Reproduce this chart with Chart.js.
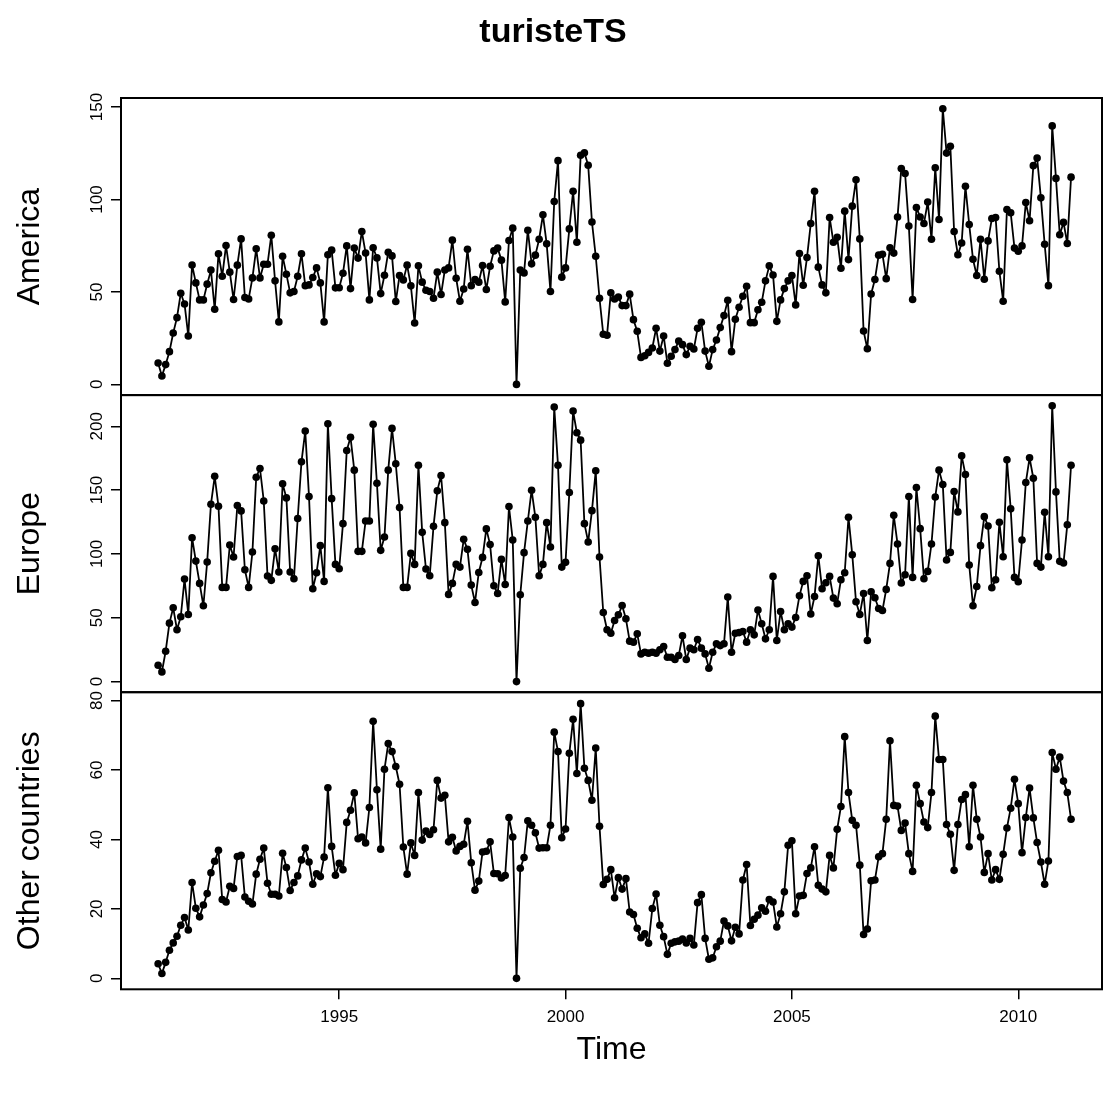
<!DOCTYPE html>
<html>
<head>
<meta charset="utf-8">
<title>turisteTS</title>
<script src="https://cdn.jsdelivr.net/npm/chart.js@4.4.1/dist/chart.umd.min.js"></script>
<style>
  html, body { margin: 0; padding: 0; background: #fff; }
  #wrap { width: 1106px; height: 1093px; }
</style>
</head>
<body>
<div id="wrap"><canvas id="ts" width="1106" height="1093"></canvas></div>
<script>
// monthly series, first observation Jan 1991, last Mar 2011
const startYear = 1991;

const america = [
  11.6, 4.5, 10.7, 17.7, 27.8, 36.1, 49.3, 43.5, 26.2, 64.6,
  54.9, 45.7, 45.7, 54.2, 61.8, 40.6, 70.6, 58.5, 75.1, 60.7,
  45.9, 64.5, 78.7, 47.0, 46.2, 57.6, 73.3, 57.6, 65.0, 65.0,
  80.7, 56.0, 33.8, 69.3, 59.6, 49.5, 50.2, 58.5, 70.6, 53.4,
  53.8, 57.8, 63.0, 54.9, 33.8, 70.1, 72.6, 52.2, 52.3, 60.1,
  74.9, 51.8, 73.7, 68.3, 82.7, 71.0, 45.7, 73.9, 68.4, 49.1,
  59.0, 71.5, 69.5, 44.8, 58.9, 56.5, 64.5, 53.3, 33.2, 64.1,
  55.3, 50.9, 50.2, 46.6, 60.7, 48.6, 61.9, 63.0, 78.0, 57.4,
  45.0, 51.6, 73.1, 53.4, 56.7, 55.3, 64.3, 51.3, 63.9, 72.2,
  73.7, 67.2, 44.6, 77.8, 84.5, 0, 61.9, 60.3, 83.4, 65.2,
  69.9, 78.5, 91.7, 76.0, 50.2, 98.9, 121.0, 58.0, 63.0, 84.1,
  104.4, 76.9, 123.9, 125.3, 118.5, 87.8, 69.3, 46.6, 27.1, 26.6,
  49.6, 46.2, 47.3, 42.6, 42.6, 48.8, 35.0, 28.7, 14.6, 15.5,
  17.3, 19.7, 30.3, 18.0, 26.2, 11.4, 15.2, 18.8, 23.5, 21.5,
  16.1, 20.6, 19.1, 30.3, 33.6, 18.0, 9.8, 18.8, 24.0, 30.7,
  37.2, 45.5, 17.7, 35.2, 41.7, 47.7, 53.1, 33.4, 33.4, 40.4,
  44.4, 56.0, 64.1, 59.2, 34.1, 45.7, 51.8, 56.0, 58.9, 43.0,
  70.8, 53.6, 68.6, 87.0, 104.4, 63.4, 53.8, 49.5, 90.3, 76.9,
  79.6, 62.8, 93.7, 67.5, 96.4, 110.7, 78.7, 28.9, 19.3, 48.9,
  56.7, 69.9, 70.4, 57.2, 73.9, 71.0, 90.5, 116.8, 114.1, 85.6,
  45.9, 95.7, 90.5, 87.0, 98.6, 78.5, 117.2, 89.2, 149.1, 125.1,
  128.8, 82.7, 70.1, 76.5, 107.1, 86.5, 67.7, 58.9, 78.5, 56.9,
  77.6, 89.7, 90.3, 61.2, 45.0, 94.6, 92.8, 73.7, 72.0, 74.9,
  98.4, 88.5, 118.3, 122.4, 100.9, 75.8, 53.4, 139.8, 111.4, 80.9,
  87.6, 76.2, 112.1
];

const europe = [
  12.8, 7.6, 23.8, 45.8, 57.8, 40.6, 50.8, 80.3, 52.6, 112.7,
  94.4, 76.9, 59.4, 93.7, 138.9, 160.8, 137.3, 73.8, 73.8, 107.0,
  97.6, 137.9, 133.7, 87.6, 73.8, 101.5, 160.1, 166.9, 141.5, 82.7,
  79.3, 104.1, 85.8, 154.9, 143.9, 85.8, 80.6, 127.7, 172.1, 196.2,
  144.9, 72.7, 85.3, 106.5, 78.5, 201.9, 143.3, 91.8, 88.4, 123.7,
  181.0, 191.4, 165.6, 102.0, 102.0, 125.8, 125.8, 201.6, 155.4, 102.8,
  113.3, 165.6, 198.3, 170.6, 136.3, 73.8, 73.8, 100.4, 91.8, 169.5,
  116.9, 88.2, 82.9, 121.6, 149.4, 161.4, 124.5, 68.3, 76.9, 91.8,
  89.7, 111.4, 103.6, 75.6, 62.0, 85.5, 97.3, 119.6, 107.3, 75.1,
  69.0, 95.7, 76.1, 137.1, 110.9, 0, 68.0, 101.0, 125.8, 149.9,
  128.7, 82.9, 91.8, 124.5, 105.4, 215.0, 169.5, 89.7, 93.4, 148.1,
  211.9, 194.9, 189.1, 123.7, 109.4, 133.9, 165.1, 97.6, 54.1, 40.6,
  37.9, 47.9, 52.3, 59.6, 49.2, 31.7, 30.9, 37.4, 21.7, 23.0,
  22.3, 23.0, 22.3, 24.9, 27.5, 19.1, 19.1, 17.3, 20.4, 35.9,
  17.3, 26.2, 24.9, 33.0, 26.2, 21.7, 10.5, 23.0, 29.6, 28.2,
  29.6, 66.2, 23.0, 37.9, 38.4, 39.2, 30.9, 40.6, 36.6, 56.0,
  45.3, 33.5, 40.6, 82.4, 32.2, 54.9, 40.6, 45.3, 42.7, 50.2,
  67.2, 78.5, 82.9, 52.9, 66.7, 98.6, 72.7, 77.4, 82.4, 65.4,
  61.0, 79.8, 85.3, 128.7, 99.4, 62.5, 52.6, 69.0, 32.2, 70.4,
  65.7, 57.3, 55.7, 72.2, 92.6, 130.2, 107.8, 77.2, 83.7, 144.9,
  81.6, 152.0, 119.8, 80.6, 86.3, 107.8, 144.6, 165.6, 154.3, 95.2,
  101.2, 148.8, 132.9, 176.8, 162.2, 91.3, 59.4, 74.5, 106.5, 129.2,
  121.9, 73.5, 79.8, 124.8, 97.8, 173.7, 135.3, 81.6, 78.2, 110.9,
  155.9, 175.3, 159.3, 92.6, 89.7, 132.6, 97.8, 216.0, 148.6, 94.2,
  92.9, 122.9, 169.5
];

const otherCountries = [
  4.2, 1.4, 4.6, 8.1, 10.2, 12.1, 15.3, 17.5, 13.9, 27.6,
  20.2, 17.7, 21.1, 24.4, 30.4, 33.7, 36.9, 22.7, 22.0, 26.5,
  25.9, 35.1, 35.4, 23.4, 22.2, 21.4, 30.0, 34.3, 37.5, 27.4,
  24.2, 24.2, 23.7, 36.0, 31.9, 25.3, 27.6, 29.5, 34.1, 37.5,
  33.5, 27.1, 30.1, 29.3, 34.9, 54.9, 38.0, 29.7, 33.1, 31.3,
  44.9, 48.4, 53.4, 40.2, 40.7, 39.0, 49.2, 74.0, 54.3, 37.2,
  60.2, 67.6, 65.3, 61.0, 55.9, 37.8, 30.0, 39.0, 35.4, 53.5,
  39.8, 42.4, 41.4, 42.8, 57.0, 51.9, 52.7, 39.3, 40.6, 36.7,
  38.0, 38.6, 45.2, 33.3, 25.4, 28.0, 36.4, 36.6, 39.3, 30.2,
  30.1, 28.9, 29.6, 46.3, 40.7, 0, 31.7, 34.8, 45.4, 44.1,
  41.9, 37.5, 37.6, 37.6, 44.1, 70.9, 65.3, 40.5, 43.0, 64.8,
  74.6, 59.0, 79.1, 60.5, 57.0, 51.3, 66.3, 43.8, 27.0, 28.5,
  31.3, 23.2, 29.0, 25.7, 28.7, 19.1, 18.4, 14.4, 11.7, 12.8,
  10.1, 20.1, 24.3, 15.3, 12.0, 6.9, 10.1, 10.5, 10.7, 11.3,
  10.2, 11.5, 9.6, 21.8, 24.1, 11.5, 5.5, 5.9, 9.1, 10.7,
  16.5, 15.1, 10.8, 14.7, 12.8, 28.3, 32.8, 15.2, 17.0, 18.2,
  20.3, 19.3, 22.7, 22.0, 14.8, 18.6, 24.9, 38.3, 39.6, 18.6,
  23.7, 23.9, 30.2, 31.8, 37.9, 26.8, 25.7, 24.9, 35.4, 31.8,
  42.9, 49.5, 69.6, 53.5, 45.5, 44.1, 32.6, 12.6, 14.2, 28.1,
  28.3, 35.0, 35.9, 45.8, 68.4, 49.8, 49.6, 42.6, 44.7, 35.9,
  30.8, 55.6, 50.3, 45.0, 43.4, 53.5, 75.5, 63.0, 63.0, 44.3,
  41.5, 31.1, 44.3, 51.5, 52.9, 37.9, 55.6, 45.8, 40.7, 30.5,
  35.9, 28.3, 31.3, 28.5, 35.7, 43.3, 49.0, 57.3, 50.3, 36.2,
  46.3, 54.8, 46.2, 39.1, 33.5, 27.1, 33.8, 65.0, 60.2, 63.7,
  56.8, 53.5, 45.8
];

const seriesNames = ['America', 'Europe', 'Other countries'];
const timeTicks = [1995, 2000, 2005, 2010];
const americaTicks = [0, 50, 100, 150];
const europeTicks = [0, 50, 100, 150, 200];
const otherTicks = [0, 20, 40, 60, 80];

const FONT = '"Liberation Sans", Arial, Helvetica, sans-serif';

// top panel first; weight decides the order in the left stack (higher = top)
const panels = [
  { id: 'yA', name: seriesNames[0], data: america, ticks: americaTicks, min: -5.8, max: 154.9, weight: 3 },
  { id: 'yE', name: seriesNames[1], data: europe, ticks: europeTicks, min: -8.3, max: 224.4, weight: 2 },
  { id: 'yO', name: seriesNames[2], data: otherCountries, ticks: otherTicks, min: -3.16, max: 82.4, weight: 1 }
];

const toPoints = arr => arr.map((v, i) => ({ x: startYear + i / 12, y: v }));

const scales = {
  x: {
    type: 'linear',
    position: 'bottom',
    min: 1990.18,
    max: 2011.85,
    afterBuildTicks: s => { s.ticks = timeTicks.map(v => ({ value: v })); },
    afterFit: s => { s.height = 103.7; },
    grid: { drawOnChartArea: false, drawTicks: true, tickLength: 10, color: '#000', lineWidth: 1.5 },
    border: { display: false },
    ticks: {
      color: '#000',
      font: { family: FONT, size: 17 },
      padding: 8,
      autoSkip: false,
      maxRotation: 0,
      callback: v => String(v)
    }
  }
};

panels.forEach(p => {
  scales[p.id] = {
    type: 'linear',
    position: 'left',
    stack: 'panels',
    stackWeight: 1,
    weight: p.weight,
    min: p.min,
    max: p.max,
    afterBuildTicks: s => { s.ticks = p.ticks.map(v => ({ value: v })); },
    afterFit: s => { s.width = 121; },
    grid: { drawOnChartArea: false, drawTicks: true, tickLength: 10, color: '#000', lineWidth: 1.5 },
    border: { display: false },
    ticks: { display: false }
  };
});

// frames, rotated y tick labels, panel names and titles
const decorations = {
  id: 'decorations',
  afterDraw(chart) {
    const { ctx, chartArea } = chart;
    ctx.save();
    ctx.strokeStyle = '#000';
    ctx.lineWidth = 2;
    panels.forEach(p => {
      const s = chart.scales[p.id];
      ctx.strokeRect(chartArea.left, s.top, chartArea.right - chartArea.left, s.bottom - s.top);
    });

    ctx.fillStyle = '#000';
    ctx.textAlign = 'center';
    ctx.textBaseline = 'middle';
    panels.forEach(p => {
      const s = chart.scales[p.id];
      ctx.font = `17px ${FONT}`;
      s.ticks.forEach(t => {
        const y = s.getPixelForValue(t.value);
        ctx.save();
        ctx.translate(97, y);
        ctx.rotate(-Math.PI / 2);
        ctx.fillText(String(t.value), 0, 0);
        ctx.restore();
      });
      ctx.font = `32px ${FONT}`;
      ctx.save();
      ctx.translate(30, (s.top + s.bottom) / 2);
      ctx.rotate(-Math.PI / 2);
      ctx.fillText(p.name, 0, 0);
      ctx.restore();
    });

    ctx.font = `32px ${FONT}`;
    ctx.fillText('Time', (chartArea.left + chartArea.right) / 2, 1050);
    ctx.font = `bold 34px ${FONT}`;
    ctx.fillText('turisteTS', chart.width / 2, 33);
    ctx.restore();
  }
};

new Chart(document.getElementById('ts'), {
  type: 'line',
  data: {
    datasets: panels.map(p => ({
      label: p.name,
      data: toPoints(p.data),
      yAxisID: p.id,
      borderColor: '#000',
      borderWidth: 1.8,
      borderJoinStyle: 'round',
      borderCapStyle: 'round',
      pointRadius: 3.8,
      pointBorderWidth: 0,
      pointBackgroundColor: '#000',
      tension: 0,
      fill: false
    }))
  },
  options: {
    responsive: false,
    animation: false,
    devicePixelRatio: 1,
    events: [],
    layout: { padding: { top: 98, right: 1, bottom: 0, left: 0 } },
    plugins: { legend: { display: false }, tooltip: { enabled: false }, title: { display: false } },
    scales
  },
  plugins: [decorations]
});
</script>
</body>
</html>
